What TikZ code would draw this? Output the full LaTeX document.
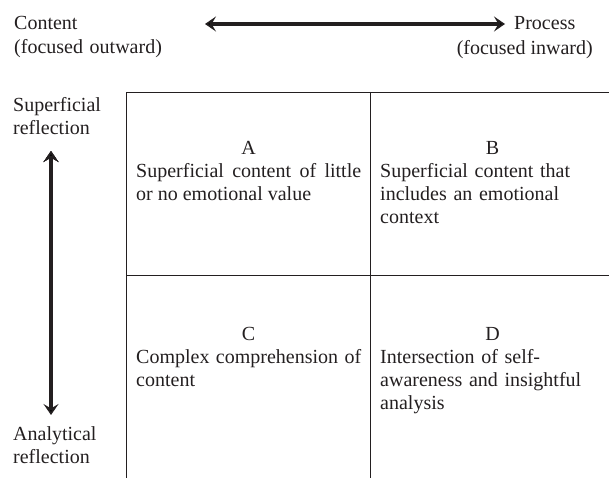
\documentclass[tikz,border=0pt]{standalone}
\usepackage{fontspec}
\setmainfont{Liberation Serif}
\usetikzlibrary{arrows.meta}
\definecolor{ink}{RGB}{35,31,32}
\tikzset{>={Stealth[length=11pt,width=15pt,inset=4.5pt]}}
\tikzset{
  axis arrow/.style={line width=3.2pt, draw=ink},
  quad letter/.style={anchor=base, inner sep=0pt, text=ink},
  quad text/.style={anchor=base west, inner sep=0pt, text width=225pt, text=ink},
  side label/.style={anchor=base west, inner sep=0pt, text width=160pt, align=left, text=ink}
}

\begin{document}
\begin{tikzpicture}[x=1pt, y=-1pt, font=\fontsize{20}{23}\selectfont]
\useasboundingbox (0,0) rectangle (609,478);
% axis labels
\node[side label] (content) at (14,30) {Content\\[1pt](focused outward)};
\node[side label, text width=80pt] (process) at (514,30) {Process};
\node[anchor=base east, inner sep=0pt, text=ink] (processsub) at (593,55) {(focused inward)};
\node[side label] (superf) at (13,112) {Superficial\\reflection};
\node[side label] (analyt) at (13,440) {Analytical\\reflection};
% arrow ends
\coordinate (hl) at (205,24);
\coordinate (hr) at (505,24);
\coordinate (vt) at (51,151);
\coordinate (vb) at (51,415);
\path[<->, axis arrow]
(hl) edge (hr)
(vt) edge (vb);
% grid
\draw[ink, line width=0.9pt] (126,478) -- (126,92) -- (609,92);
\draw[ink, line width=0.9pt] (370,92) -- (370,478);
\draw[ink, line width=0.9pt] (126,275) -- (609,275);
% quadrants
\node[quad letter] (la) at (248.5,155) {A};
\node[quad text, align=justify] (ta) at (136,178) {Superficial content of little or no emotional value};
\node[quad letter] (lb) at (492.5,155) {B};
\node[quad text, align=left] (tb) at (380,178) {Superficial content that\\includes an emotional\\context};
\node[quad letter] (lc) at (248.5,340) {C};
\node[quad text, align=justify] (tc) at (136,363) {Complex comprehension of content};
\node[quad letter] (ld) at (492.5,340) {D};
\node[quad text, align=left] (td) at (380,363) {Intersection of self-\\awareness and insightful\\analysis};
\end{tikzpicture}
\end{document}
